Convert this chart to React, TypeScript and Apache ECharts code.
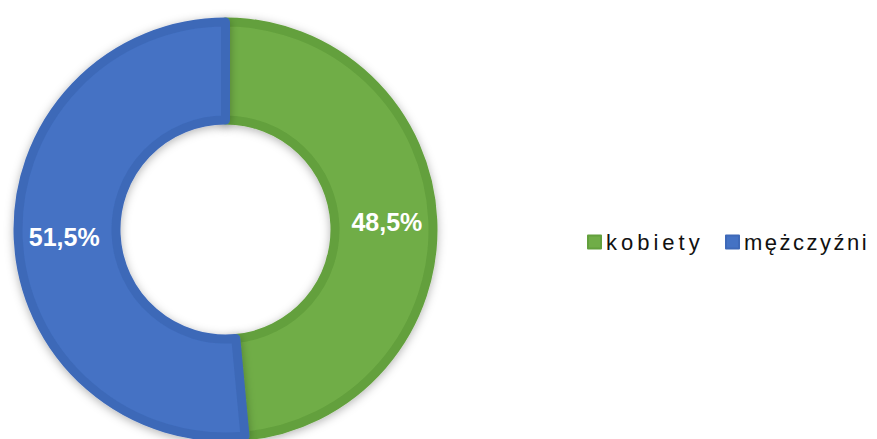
import React, { useEffect, useRef } from "react";
import * as echarts from "echarts";

const categories = ["kobiety", "mężczyźni"];
const values = [48.5, 51.5];
const fillColors = ["#70AD47", "#4472C4"];
const borderColors = ["#63A03D", "#3E69B8"];

export default function App() {
  const ref = useRef<HTMLDivElement>(null);

  useEffect(() => {
    if (!ref.current) return;
    const chart = echarts.init(ref.current, undefined, { renderer: "svg" });
    const fontFamily = "'Liberation Sans', Arial, sans-serif";
    const legendCommon = {
      orient: "horizontal" as const,
      top: 231,
      padding: 0,
      itemWidth: 13,
      itemHeight: 13,
      itemGap: 20,
      icon: "rect",
      textStyle: { fontSize: 22, color: "#111", fontFamily },
      selectedMode: false,
    };
    chart.setOption({
      animation: false,
      backgroundColor: "#ffffff",
      legend: [
        { ...legendCommon, left: 587, data: [categories[0]] },
        { ...legendCommon, left: 725, data: [categories[1]] },
      ],
      series: [
        {
          type: "pie",
          center: [225.5, 229.5],
          radius: [109.5, 207.5],
          startAngle: 90,
          clockwise: true,
          avoidLabelOverlap: false,
          silent: true,
          label: {
            show: true,
            position: "inside",
            color: "#ffffff",
            fontSize: 25,
            fontWeight: "bold",
            fontFamily,
            formatter: (p: any) => p.value.toFixed(1).replace(".", ",") + "%",
          },
          labelLine: { show: false },
          itemStyle: {
            borderWidth: 9,
            shadowBlur: 10,
            shadowColor: "rgba(0,0,0,0.3)",
            shadowOffsetY: 2,
          },
          data: categories.map((name, i) => ({
            name,
            value: values[i],
            itemStyle: { color: fillColors[i], borderColor: borderColors[i] },
          })),
        },
      ],
    });
    const spacing: Record<string, string> = { kobiety: "4", "mężczyźni": "2.5" };
    const applySpacing = () => {
      ref.current?.querySelectorAll("text").forEach((t) => {
        const s = spacing[(t.textContent || "").trim()];
        if (s) t.setAttribute("letter-spacing", s);
      });
    };
    applySpacing();
    chart.on("finished", applySpacing);
    return () => chart.dispose();
  }, []);

  return (
    <div
      ref={ref}
      style={{ position: "fixed", left: 0, top: 0, width: 877, height: 439 }}
    />
  );
}
